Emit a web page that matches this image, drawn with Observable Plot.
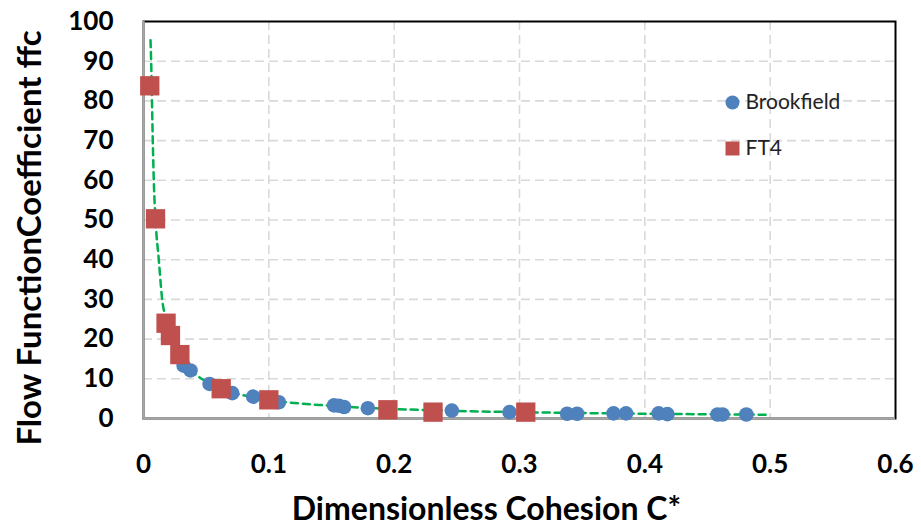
<!DOCTYPE html>
<html><head><meta charset="utf-8">
<script src="https://cdn.jsdelivr.net/npm/d3@7"></script>
<script src="https://cdn.jsdelivr.net/npm/@observablehq/plot@0.6"></script>
<style>body{margin:0;background:#fff}</style>
</head><body><div id="chart"></div>
<script>
// Brookfield series
const brookfieldX = [0.032, 0.0375, 0.0527, 0.0708, 0.0875, 0.108, 0.152, 0.156, 0.160, 0.179, 0.246, 0.292, 0.338, 0.346, 0.375, 0.385, 0.411, 0.418, 0.458, 0.462, 0.481];
const brookfieldY = [13.3, 12.1, 8.7, 6.4, 5.5, 4.1, 3.3, 3.2, 2.9, 2.6, 2.0, 1.6, 1.2, 1.2, 1.3, 1.3, 1.3, 1.1, 1.0, 1.0, 1.0];
// FT4 series
const ft4X = [0.005, 0.0096, 0.018, 0.0215, 0.029, 0.062, 0.100, 0.195, 0.231, 0.305];
const ft4Y = [83.8, 50.3, 24.0, 20.9, 16.1, 7.5, 4.7, 2.2, 1.6, 1.6];
// Fitted trend line
const fitX = [0.0056, 0.0061, 0.0074, 0.0082, 0.0096, 0.0122, 0.0149, 0.018, 0.029, 0.04, 0.05, 0.07, 0.1, 0.15, 0.2, 0.25, 0.3, 0.4, 0.5];
const fitY = [95.3, 90, 70, 60, 50, 40, 30, 25, 16.2, 11.6, 9.3, 6.7, 4.7, 3.2, 2.4, 1.9, 1.6, 1.2, 0.95];
// Axes
const xTicks = [0, 0.1, 0.2, 0.3, 0.4, 0.5, 0.6];
const xTickLabels = ["0", "0.1", "0.2", "0.3", "0.4", "0.5", "0.6"];
const yTicks = [0, 10, 20, 30, 40, 50, 60, 70, 80, 90, 100];
const xGrid = [0.1, 0.2, 0.3, 0.4, 0.5];
const yGrid = [10, 20, 30, 40, 50, 60, 70, 80, 90];
const xTitle = "Dimensionless Cohesion C*";
const yTitle = "Flow FunctionCoefficient ffc";
const seriesNames = ["Brookfield", "FT4"];

const brookfield = brookfieldX.map((x, i) => ({x, y: brookfieldY[i]}));
const ft4 = ft4X.map((x, i) => ({x, y: ft4Y[i]}));
const fit = fitX.map((x, i) => ({x, y: fitY[i]}));

const blue = "#4F81BD", red = "#C0504D", green = "#00B050";
const gridStyle = {stroke: "#D9D9D9", strokeOpacity: 1, strokeWidth: 1.6, strokeDasharray: "9,5"};

const chart = Plot.plot({
  width: 921, height: 528,
  marginLeft: 143, marginRight: 26, marginTop: 21, marginBottom: 110,
  x: {domain: [0, 0.6]},
  y: {domain: [0, 100]},
  style: {fontFamily: "Lato, sans-serif", background: "#fff", color: "#000"},
  marks: [
    Plot.gridX(xGrid, gridStyle),
    Plot.gridY(yGrid, gridStyle),
    Plot.frame({stroke: "#000", strokeWidth: 2}),
    Plot.ruleX([0], {stroke: "#A6A6A6", strokeWidth: 2.5}),
    Plot.ruleY([0], {stroke: "#A6A6A6", strokeWidth: 2.5}),
    Plot.line(fit, {x: "x", y: "y", stroke: green, strokeWidth: 2.5, strokeDasharray: "7,5", curve: "monotone-x"}),
    Plot.dot(brookfield, {x: "x", y: "y", r: 7.3, fill: blue, stroke: "none"}),
    Plot.dot(ft4, {x: "x", y: "y", symbol: "square", r: 10.9, fill: red, stroke: "none"}),
    Plot.axisX(xTicks, {tickSize: 0, tickPadding: 36, fontSize: 26, fontWeight: "bold", label: null,
      tickFormat: (d) => xTickLabels[xTicks.indexOf(d)]}),
    Plot.axisY(yTicks, {tickSize: 0, tickPadding: 30, fontSize: 26, fontWeight: "bold", label: null}),
    Plot.text([yTitle], {text: d => d, frameAnchor: "left", rotate: -90, textAnchor: "middle", lineAnchor: "middle", dx: -113, dy: 18, fontSize: 33, fontWeight: "bold", fill: "#000"}),
    Plot.text([xTitle], {text: d => d, frameAnchor: "bottom", textAnchor: "middle", lineAnchor: "middle", dx: -33, dy: 91, fontSize: 32, fontWeight: "bold", fill: "#000"}),
    // legend
    Plot.dot([seriesNames[0]], {frameAnchor: "top-left", dx: 589, dy: 81, r: 7, fill: blue, stroke: "none"}),
    Plot.dot([seriesNames[1]], {frameAnchor: "top-left", dx: 589, dy: 127, r: 7.9, symbol: "square", fill: red, stroke: "none"}),
    Plot.text([seriesNames[0]], {text: d => d, frameAnchor: "top-left", dx: 602, dy: 81, textAnchor: "start", lineAnchor: "middle", fontSize: 21, fill: "#222"}),
    Plot.text([seriesNames[1]], {text: d => d, frameAnchor: "top-left", dx: 602, dy: 127, textAnchor: "start", lineAnchor: "middle", fontSize: 21, fill: "#222"})
  ]
});
document.getElementById("chart").appendChild(chart);
</script>
</body></html>
